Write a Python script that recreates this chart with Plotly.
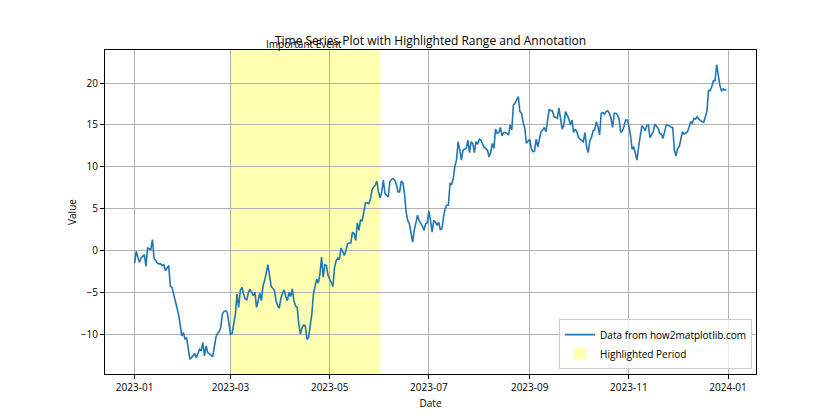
import pandas as pd
import plotly.graph_objects as go

# ---- data (daily values, 2023-01-01 .. 2023-12-31) ----
start_date = "2023-01-01"
values = [
    -1.5, -0.1, -0.8, -1.4, -0.9, -0.7, -0.5, -1.9, 0.3, 0.2,
    0.1, 1.3, -1.0, -1.2, -1.5, -1.6, -1.6, -1.8, -1.7, -2.4,
    -2.1, -1.8, -4.3, -4.4, -5.2, -6.0, -6.8, -7.6, -8.8, -10.2,
    -9.8, -10.6, -10.4, -11.6, -13.0, -12.8, -12.5, -12.3, -12.8, -12.2,
    -11.8, -12.0, -11.0, -12.6, -11.4, -12.2, -12.3, -12.5, -12.7, -11.6,
    -10.4, -9.9, -9.7, -9.2, -7.6, -7.3, -7.2, -7.4, -8.6, -10.0,
    -9.9, -8.8, -7.6, -5.2, -6.8, -4.8, -4.4, -5.2, -5.8, -5.9,
    -5.0, -4.6, -5.0, -5.4, -5.0, -6.8, -6.0, -5.1, -6.0, -4.2,
    -3.6, -2.8, -1.7, -3.0, -4.3, -4.5, -4.8, -6.0, -6.6, -6.9,
    -5.7, -5.1, -4.7, -5.5, -6.0, -5.0, -5.5, -4.6, -6.0, -6.6,
    -6.8, -8.8, -10.0, -9.2, -8.9, -9.0, -10.6, -10.4, -8.8, -7.6,
    -5.2, -4.3, -3.4, -3.9, -2.8, -0.8, -3.2, -1.7, -1.8, -3.0,
    -3.4, -3.7, -4.3, -2.0, -1.2, -0.9, -1.0, 0.3, -0.2, -0.6,
    0.0, 0.8, 0.9, 0.9, 2.2, 2.0, 1.2, 3.3, 2.4, 3.7,
    3.5, 4.4, 5.7, 5.7, 5.6, 6.1, 7.2, 7.6, 7.8, 8.3,
    7.0, 6.3, 7.0, 8.4, 6.8, 6.6, 6.4, 8.2, 8.5, 8.6,
    8.4, 7.9, 7.0, 7.0, 8.3, 8.1, 6.8, 4.6, 3.6, 3.2,
    2.2, 1.0, 2.4, 3.2, 4.2, 3.6, 3.3, 2.9, 2.4, 3.2,
    3.3, 4.7, 3.6, 2.2, 3.6, 3.4, 3.0, 3.4, 2.5, 2.6,
    4.0, 5.0, 5.4, 5.4, 8.0, 7.9, 8.6, 10.1, 10.8, 13.0,
    12.0, 10.8, 12.0, 12.1, 12.2, 13.2, 11.7, 13.0, 12.8, 11.7,
    13.0, 12.7, 13.3, 13.2, 12.8, 12.3, 12.2, 12.0, 11.2, 11.7,
    12.8, 12.2, 14.5, 14.0, 14.1, 14.7, 13.7, 14.1, 14.1, 14.0,
    13.8, 15.0, 14.4, 17.4, 17.6, 18.1, 18.4, 16.6, 16.4, 15.3,
    14.6, 12.8, 13.0, 13.3, 12.2, 11.8, 11.9, 13.3, 12.4, 13.4,
    14.2, 14.4, 14.7, 14.2, 15.6, 16.9, 16.7, 16.7, 16.0, 15.9,
    15.8, 17.0, 15.4, 14.5, 15.0, 16.6, 16.2, 15.8, 15.0, 15.6,
    14.1, 14.5, 14.2, 13.5, 13.3, 13.1, 13.0, 14.1, 12.4, 11.7,
    13.1, 13.5, 14.3, 14.4, 15.4, 14.8, 13.8, 16.4, 16.5, 16.3,
    16.6, 16.7, 16.4, 15.8, 14.7, 16.4, 16.4, 16.2, 15.7, 14.1,
    14.3, 14.8, 15.6, 15.6, 14.9, 13.8, 12.1, 12.4, 11.4, 10.8,
    12.4, 14.0, 14.9, 14.7, 14.3, 14.9, 15.0, 13.5, 13.8, 14.2,
    15.1, 14.9, 14.6, 14.0, 13.9, 13.4, 14.2, 15.0, 15.0, 14.9,
    14.7, 14.7, 12.0, 11.3, 12.2, 12.4, 13.3, 14.2, 13.9, 14.0,
    14.2, 14.7, 15.4, 15.2, 15.8, 15.7, 16.0, 15.7, 15.5, 15.4,
    15.3, 16.0, 16.6, 19.1, 19.1, 19.6, 20.3, 20.3, 22.2, 21.0,
    19.7, 19.1, 19.3, 19.2, 19.2,
]
highlight_start = "2023-03-01"
highlight_end = "2023-06-01"
annotation_date = "2023-04-15"
annotation_text = "Important Event"
x_ticks = ["2023-01-01", "2023-03-01", "2023-05-01", "2023-07-01",
           "2023-09-01", "2023-11-01", "2024-01-01"]
title_text = "Time Series Plot with Highlighted Range and Annotation"
line_name = "Data from how2matplotlib.com"
span_name = "Highlighted Period"

dates = pd.date_range(start_date, periods=len(values), freq="D")

# matplotlib-like 5% margins
span = dates[-1] - dates[0]
x_range = [dates[0] - span * 0.05, dates[-1] + span * 0.05]
vmin, vmax = min(values), max(values)
pad = (vmax - vmin) * 0.05
y_range = [vmin - pad, vmax + pad]

FONT = "Open Sans"
BLUE = "#1f77b4"
YELLOW = "rgba(255,255,0,0.3)"

fig = go.Figure()
fig.add_trace(go.Scatter(
    x=dates, y=values, mode="lines", name=line_name,
    line=dict(color=BLUE, width=1.6),
))
# legend entry for the highlighted span
fig.add_trace(go.Bar(
    x=[None], y=[None], name=span_name,
    marker=dict(color=YELLOW, line=dict(width=0)),
))

fig.add_shape(
    type="rect", xref="x", yref="paper",
    x0=highlight_start, x1=highlight_end, y0=0, y1=1,
    fillcolor=YELLOW, line=dict(width=0), layer="below",
)

fig.add_annotation(
    x=annotation_date, xref="x", y=1, yref="paper",
    text=annotation_text, showarrow=False,
    xanchor="center", yanchor="bottom", yshift=-3,
    font=dict(family=FONT, size=10, color="black"),
)

axis_common = dict(
    showline=True, linecolor="black", linewidth=1, mirror=True,
    ticks="outside", ticklen=4, tickcolor="black", tickwidth=1,
    showgrid=True, gridcolor="#b0b0b0", gridwidth=0.8,
    zeroline=False, automargin=False,
    tickfont=dict(family=FONT, size=10, color="black"),
)

fig.update_layout(
    width=840, height=420,
    margin=dict(l=105, r=84, t=50, b=46, autoexpand=False),
    plot_bgcolor="white", paper_bgcolor="white",
    font=dict(family=FONT, color="black"),
    title=dict(text=title_text, x=0.5, xref="paper", xanchor="center",
               y=1 - 41 / 420, yanchor="middle",
               font=dict(family=FONT, size=12, color="black")),
    showlegend=True,
    legend=dict(
        x=0.994, y=0.015, xanchor="right", yanchor="bottom",
        bgcolor="rgba(255,255,255,0.8)", bordercolor="#cccccc", borderwidth=1,
        font=dict(family=FONT, size=10, color="black"),
        tracegroupgap=0, itemwidth=30,
    ),
    barmode="overlay",
)
fig.update_xaxes(
    **axis_common, type="date", range=x_range,
    tickvals=x_ticks, tickformat="%Y-%m",
    title=dict(text="Date", font=dict(family=FONT, size=10), standoff=6),
)
fig.update_yaxes(
    **axis_common, range=y_range,
    tickvals=[-10, -5, 0, 5, 10, 15, 20],
    title=dict(text="Value", font=dict(family=FONT, size=10), standoff=2),
)

fig.write_html("out.html", config={"displayModeBar": False},
               post_script="document.body.style.margin='0';")
